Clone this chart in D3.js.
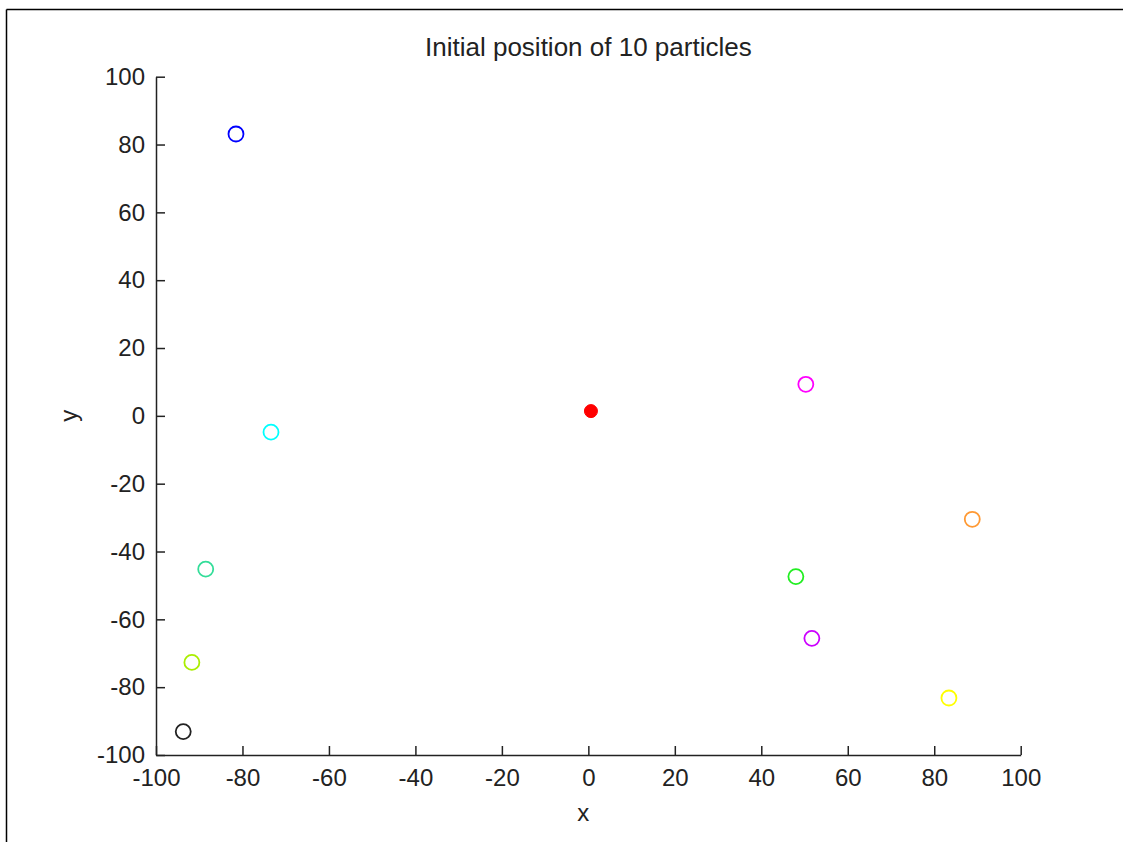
<!DOCTYPE html>
<html>
<head>
<meta charset="utf-8">
<script src="https://cdn.jsdelivr.net/npm/d3@7"></script>
<style>
  html, body { margin: 0; padding: 0; background: #fff; }
  svg { display: block; }
  text { font-family: "Liberation Sans", Arial, sans-serif; fill: #222; }
</style>
</head>
<body>
<svg id="chart" width="1123" height="842"></svg>
<script>
const titleText = "Initial position of 10 particles";
const xLabel = "x";
const yLabel = "y";
const xTicks = [-100, -80, -60, -40, -20, 0, 20, 40, 60, 80, 100];
const yTicks = [-100, -80, -60, -40, -20, 0, 20, 40, 60, 80, 100];

const particleX = [-81.5, -73.4, -88.5, -91.7, -93.7, 50.3, 88.8, 48.0, 51.7, 83.4];
const particleY = [83.1, -4.8, -45.2, -72.7, -93.1, 9.3, -30.5, -47.4, -65.6, -83.2];
const particleColors = ["#0000ff", "#00ffff", "#33dd99", "#aaee00", "#222222",
                        "#ff00ff", "#ff9933", "#22ee22", "#cc00ff", "#ffff00"];

const targetX = [0.6];
const targetY = [1.4];

const svg = d3.select("#chart");
const W = 1123, H = 842;
const mLeft = 156, mRight = 1020.7, mTop = 76.7, mBottom = 755;

// figure frame (top and left edges)
svg.append("line").attr("x1", 6.5).attr("x2", W).attr("y1", 9.5).attr("y2", 9.5)
  .attr("stroke", "#000").attr("stroke-width", 1.5);
svg.append("line").attr("x1", 6.5).attr("x2", 6.5).attr("y1", 9.5).attr("y2", H)
  .attr("stroke", "#000").attr("stroke-width", 1.5);

const x = d3.scaleLinear().domain([-100, 100]).range([mLeft, mRight]);
const y = d3.scaleLinear().domain([-100, 100]).range([mBottom, mTop]);

const xAxis = svg.append("g").attr("transform", `translate(0,${mBottom})`)
  .call(d3.axisBottom(x).tickValues(xTicks).tickSizeInner(-9).tickSizeOuter(0).tickPadding(14).tickFormat(d => String(d)));
const yAxis = svg.append("g").attr("transform", `translate(${mLeft},0)`)
  .call(d3.axisLeft(y).tickValues(yTicks).tickSizeInner(-9).tickSizeOuter(0).tickPadding(11).tickFormat(d => String(d)));

[xAxis, yAxis].forEach(g => {
  g.select(".domain").attr("stroke", "#222").attr("stroke-width", 1.5);
  g.selectAll(".tick line").attr("stroke", "#222").attr("stroke-width", 1.5);
  g.selectAll(".tick text").attr("font-size", 24).attr("fill", "#222")
    .style("font-family", "'Liberation Sans', Arial, sans-serif");
});

// title & labels
svg.append("text").attr("x", (mLeft + mRight) / 2).attr("y", 56)
  .attr("text-anchor", "middle").attr("font-size", 26).text(titleText);
svg.append("text").attr("x", (mLeft + mRight) / 2 - 5).attr("y", 821)
  .attr("text-anchor", "middle").attr("font-size", 24).text(xLabel);
svg.append("text").attr("transform", `translate(77,${(mTop + mBottom) / 2}) rotate(-90)`)
  .attr("text-anchor", "middle").attr("font-size", 24).text(yLabel);

// particles
const pts = particleX.map((v, i) => ({ x: v, y: particleY[i], c: particleColors[i] }));
svg.append("g").selectAll("circle").data(pts).join("circle")
  .attr("cx", d => x(d.x)).attr("cy", d => y(d.y)).attr("r", 7.5)
  .attr("fill", "none").attr("stroke", d => d.c).attr("stroke-width", 1.8);

// target (filled red)
svg.append("g").selectAll("circle").data(targetX.map((v, i) => ({ x: v, y: targetY[i] }))).join("circle")
  .attr("cx", d => x(d.x)).attr("cy", d => y(d.y)).attr("r", 6.5)
  .attr("fill", "#ff0000").attr("stroke", "#ff0000").attr("stroke-width", 1);
</script>
</body>
</html>
